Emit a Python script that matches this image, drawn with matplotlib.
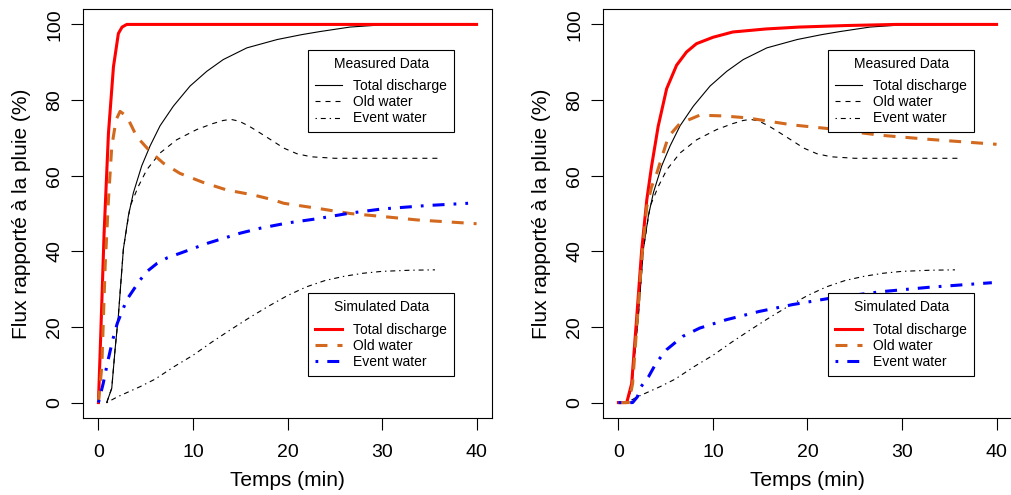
import matplotlib
matplotlib.use("Agg")
import matplotlib.pyplot as plt
from matplotlib.lines import Line2D

plt.rcParams["font.family"] = ["Liberation Sans", "DejaVu Sans"]
plt.rcParams["lines.scale_dashes"] = False

# --- measured data (same in both panels) ---
meas_total_t = [0.88, 1.41, 1.76, 2.11, 2.64, 3.17, 3.70, 4.58, 5.47, 6.52, 7.93, 9.69,
                11.46, 13.2, 15.7, 18.9, 21.5, 23.4, 26.6, 30.1, 40]
meas_total_v = [0, 3.8, 14, 23, 40.6, 49.4, 55.5, 62.6, 67.9, 73.2, 78.4, 83.7,
                87.6, 90.7, 93.8, 96.0, 97.3, 98.1, 99.3, 99.9, 100]

meas_old_t = [0.88, 1.41, 1.76, 2.11, 2.64, 3.35, 4.23, 5.12, 6.52, 8.28, 10.4, 12.0,
              13.2, 14.0, 14.9, 16.0, 17.1, 18.3, 19.6, 21.0, 22.5, 25.0, 36.0]
meas_old_v = [0, 3.8, 14, 23, 40.6, 51.9, 57.2, 61.6, 66.0, 69.5, 72.2, 73.7,
              74.6, 74.9, 74.4, 73.0, 71.3, 69.4, 67.3, 65.8, 65.0, 64.6, 64.6]

meas_event_t = [0.88, 2, 4.4, 6, 8, 10, 12, 14, 16, 18, 20, 22, 24, 26, 28, 30, 33, 35.6]
meas_event_v = [0, 1.5, 4.2, 6.2, 9.5, 12.5, 16, 19.3, 22.5, 25.5, 28.3, 30.6, 32.3,
                33.4, 34.2, 34.7, 35.0, 35.1]

# --- simulated data, left panel ---
simA_total_t = [0, 0.25, 0.60, 1.06, 1.59, 2.11, 2.5, 3.0, 40]
simA_total_v = [0, 18.3, 44.8, 71.2, 88.8, 97.6, 99.3, 100, 100]

simA_old_t = [0, 0.36, 0.71, 1.06, 1.41, 1.87, 2.29, 3.0, 4.06, 5.47, 6.87, 8.63, 11.1,
              13.6, 16.4, 18.5, 19.6, 23.1, 26.6, 30.1, 33.7, 40]
simA_old_v = [0, 9.6, 36, 53.6, 67.7, 74.8, 77, 75.7, 70.3, 66.4, 63.3, 60.6, 58.2,
              56.2, 54.9, 53.6, 52.7, 51.4, 50.0, 49.2, 48.3, 47.3]

simA_event_t = [0, 0.5, 1.0, 1.5, 2.0, 3.0, 4.4, 5.2, 6.2, 7.3, 8.65, 11.5, 15, 17.1,
                20, 23.1, 26.6, 30, 34.7, 39.1]
simA_event_v = [0, 5, 11, 16.5, 21, 27.2, 32.4, 34.8, 36.8, 38.3, 39.5, 42.1, 44.8,
                46.1, 47.5, 48.6, 50.1, 51.2, 52.1, 52.7]

# --- simulated data, right panel ---
simB_total_t = [0, 0.88, 1.4, 1.94, 2.46, 3.0, 3.5, 4.2, 5.1, 6.15, 7.2, 8.25, 10, 12.1,
                15.6, 19.1, 24, 29.4, 40]
simB_total_v = [0, 0, 5, 22.7, 40.3, 53.6, 62.4, 73, 83, 89.2, 92.7, 94.9, 96.6, 98,
                98.8, 99.3, 99.7, 100, 100]

simB_old_t = [0, 1.1, 1.5, 2.0, 2.5, 3.0, 3.5, 4.05, 5.28, 6.5, 8.6, 11.1, 13.6, 16.4,
              18.5, 22.0, 27.7, 32.9, 40]
simB_old_v = [0, 0, 5, 22, 39, 51.8, 57, 60.6, 70.3, 73.8, 76, 75.8, 75.3, 74.2,
              73.4, 72.5, 70.7, 69.6, 68.3]

simB_event_t = [0, 1.5, 2.0, 2.3, 3.2, 4.0, 5.1, 6.8, 8.6, 11.4, 14.9, 18.4, 22.4,
                27.7, 32.9, 39.5]
simB_event_v = [0, 0, 1.5, 3.9, 6.9, 10.5, 14, 17.5, 19.7, 21.9, 24.1, 25.9, 27.6,
                29.3, 30.5, 31.7]

xticks = [0, 10, 20, 30, 40]
yticks = [0, 20, 40, 60, 80, 100]

ORANGE = "#D2691E"

# line styles (dashes in points)
meas_styles = [
    dict(color="black", lw=0.8),
    dict(color="black", lw=0.8, dashes=(3.6, 3.6)),
    dict(color="black", lw=0.8, dashes=(1.0, 2.8, 3.6, 2.8)),
]
sim_styles = [
    dict(color="red", lw=2.2),
    dict(color=ORANGE, lw=2.2, dashes=(8.6, 7.2)),
    dict(color="blue", lw=2.2, dashes=(2.0, 6.5, 8.6, 6.5)),
]
labels = ["Total discharge", "Old water", "Event water"]

W, H = 1011, 495
fig = plt.figure(figsize=(W / 100, H / 100), dpi=100)


def px_axes(left, top, right, bottom):
    return fig.add_axes([left / W, 1 - bottom / H, (right - left) / W, (bottom - top) / H])


def make_legend(ax, handles, title, left, top):
    leg = ax.legend(handles, labels, title=title, loc="upper left",
                    bbox_to_anchor=(left / W, 1 - top / H), bbox_transform=fig.transFigure,
                    borderaxespad=0, fontsize=10, title_fontsize=10, fancybox=False,
                    edgecolor="black", framealpha=1, handlelength=1.95,
                    handletextpad=0.8, borderpad=0.5, labelspacing=0.15)
    leg.get_frame().set_linewidth(0.8)
    # wider gap between title and the entries, as in R's legend()
    leg._legend_box.sep = 6.0
    return leg


def draw_panel(ax, sim, leg_left):
    for (t, v), st in zip([(meas_total_t, meas_total_v), (meas_old_t, meas_old_v),
                           (meas_event_t, meas_event_v)], meas_styles):
        ax.plot(t, v, **st)
    for (t, v), st in zip(sim, sim_styles):
        ax.plot(t, v, **st)

    ax.set_xlim(-1.6, 41.6)
    ax.set_ylim(-4, 104)
    ax.set_xticks(xticks)
    ax.set_yticks(yticks)
    ax.tick_params(direction="out", length=8.6, width=0.8, labelsize=14)
    ax.tick_params(axis="x", pad=10.5)
    ax.tick_params(axis="y", pad=6)
    for lab in ax.get_yticklabels():
        lab.set_rotation(90)
        lab.set_va("center")
    for s in ax.spines.values():
        s.set_linewidth(0.8)
    ax.set_xlabel("Temps (min)", fontsize=15, labelpad=7)
    ax.set_ylabel("Flux rapporté à la pluie (%)", fontsize=15, labelpad=10.5)

    h1 = [Line2D([], [], **st) for st in meas_styles]
    ax.add_artist(make_legend(ax, h1, "Measured Data", leg_left, 50))
    h2 = [Line2D([], [], **st) for st in sim_styles]
    make_legend(ax, h2, "Simulated Data", leg_left, 293.3)


axL = px_axes(83.3, 9.3, 491.7, 417.7)
draw_panel(axL, [(simA_total_t, simA_total_v), (simA_old_t, simA_old_v),
                 (simA_event_t, simA_event_v)], 308.3)

axR = px_axes(603.3, 9.3, 1011.7, 417.7)
draw_panel(axR, [(simB_total_t, simB_total_v), (simB_old_t, simB_old_v),
                 (simB_event_t, simB_event_v)], 828.3)

fig.savefig("out.png", dpi=100)
